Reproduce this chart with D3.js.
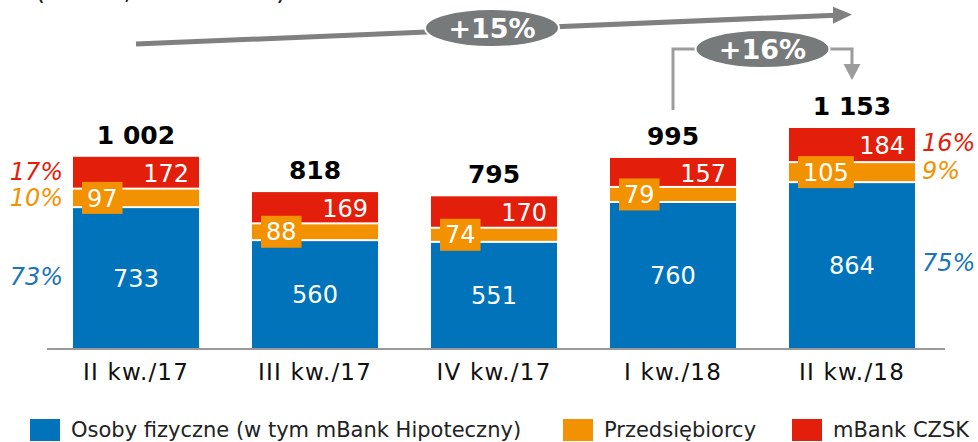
<!DOCTYPE html>
<html>
<head>
<meta charset="utf-8">
<script src="https://cdn.jsdelivr.net/npm/d3@7"></script>
<style>
  body { margin: 0; background: #fff; }
  svg { display: block; font-family: "DejaVu Sans", Verdana, sans-serif; }
</style>
</head>
<body>
<script>
const width = 978;
const height = 442;

// quarters and values (mln zł)
const categories = ["II kw./17", "III kw./17", "IV kw./17", "I kw./18", "II kw./18"];
const individuals = [733, 560, 551, 760, 864];
const entrepreneurs = [97, 88, 74, 79, 105];
const czsk = [172, 169, 170, 157, 184];
const totals = [1002, 818, 795, 995, 1153];

// shares shown next to first and last bar
const sharesFirst = ["73%", "10%", "17%"];
const sharesLast = ["75%", "9%", "16%"];

const seriesNames = ["Osoby fizyczne (w tym mBank Hipoteczny)", "Przedsiębiorcy", "mBank CZSK"];
const colors = ["#0073bb", "#f39200", "#e31e0b"];
const shareColors = ["#1a75bb", "#f39200", "#e31e0b"];

const rows = categories.map((c, i) => ({
    cat: c, ind: individuals[i], ent: entrepreneurs[i], cz: czsk[i]
}));

const stack = d3.stack().keys(["ind", "ent", "cz"]);
const series = stack(rows);

const svg = d3.select("body")
      .append("svg")
      .attr("width", width)
      .attr("height", height);

const x = d3.scaleBand()
      .domain(categories)
      .range([73, 915])
      .paddingInner(0.296)
      .paddingOuter(0);

const y = d3.scaleLinear()
      .domain([0, d3.max(totals)])
      .range([348, 128]);

// cut-off subtitle at the very top
svg.append("text")
    .attr("x", 35)
    .attr("y", -1.5)
    .attr("font-size", 26)
    .attr("fill", "#222")
    .text("(mln zł, kwartalnie)");

// bars
const layers = svg.append("g")
      .selectAll("g")
      .data(series)
      .join("g")
      .attr("fill", (d, i) => colors[i]);

layers.selectAll("rect")
    .data((d, i) => d.map(v => ({ v, layer: i })))
    .join("rect")
    .attr("x", d => x(d.v.data.cat))
    .attr("width", x.bandwidth())
    .attr("y", d => y(d.v[1]))
    .attr("height", d => y(d.v[0]) - y(d.v[1]) - (d.layer > 0 ? 2 : 0));

// baseline
svg.append("line")
    .attr("x1", 47)
    .attr("x2", 945)
    .attr("y1", y(0) + 1)
    .attr("y2", y(0) + 1)
    .attr("stroke", "#999")
    .attr("stroke-width", 2);

// x labels
const xAxis = svg.append("g")
      .attr("transform", `translate(0,${y(0) + 2})`)
      .call(d3.axisBottom(x).tickSize(0).tickPadding(14));
xAxis.select(".domain").remove();
xAxis.selectAll("text")
    .attr("font-size", 23)
    .attr("letter-spacing", 1.2)
    .attr("font-family", "DejaVu Sans, Verdana, sans-serif")
    .attr("fill", "#111");

// blue values
svg.append("g")
    .selectAll("text")
    .data(series[0])
    .join("text")
    .attr("x", d => x(d.data.cat) + x.bandwidth() / 2)
    .attr("y", d => (y(d[0]) + y(d[1])) / 2)
    .attr("dy", "0.36em")
    .attr("text-anchor", "middle")
    .attr("font-size", 24)
    .attr("fill", "#fff")
    .text(d => d.data.ind);

// red values
svg.append("g")
    .selectAll("text")
    .data(series[2])
    .join("text")
    .attr("x", d => x(d.data.cat) + x.bandwidth() - 10)
    .attr("y", d => (y(d[0]) + y(d[1])) / 2)
    .attr("dy", "0.36em")
    .attr("text-anchor", "end")
    .attr("font-size", 24)
    .attr("fill", "#fff")
    .text(d => d.data.cz);

// orange values in boxes
const entLabels = svg.append("g")
      .selectAll("g")
      .data(series[1])
      .join("g")
      .attr("transform", d => `translate(${x(d.data.cat) + 9},${(y(d[0]) + y(d[1])) / 2 - 1})`);

entLabels.append("rect")
    .attr("fill", colors[1])
    .attr("y", -16)
    .attr("height", 32);

entLabels.append("text")
    .attr("x", 5)
    .attr("dy", "0.36em")
    .attr("font-size", 24)
    .attr("fill", "#fff")
    .text(d => d.data.ent);

entLabels.each(function () {
    const g = d3.select(this);
    const w = g.select("text").node().getComputedTextLength();
    g.select("rect").attr("width", w + 10);
});

// totals
svg.append("g")
    .selectAll("text")
    .data(totals)
    .join("text")
    .attr("x", (d, i) => x(categories[i]) + x.bandwidth() / 2)
    .attr("y", d => y(d) - 13)
    .attr("text-anchor", "middle")
    .attr("font-size", 25)
    .attr("font-weight", "bold")
    .attr("fill", "#000")
    .text(d => d3.format(",")(d).replace(/,/g, " "));

// shares beside first and last bars
const first = 0, last = categories.length - 1;
svg.append("g")
    .selectAll("text")
    .data(sharesFirst)
    .join("text")
    .attr("x", x(categories[first]) - 10)
    .attr("y", (d, i) => (y(series[i][first][0]) + y(series[i][first][1])) / 2 - 2)
    .attr("dy", "0.36em")
    .attr("text-anchor", "end")
    .attr("font-size", 24)
    .attr("font-style", "italic")
    .attr("fill", (d, i) => shareColors[i])
    .text(d => d);

svg.append("g")
    .selectAll("text")
    .data(sharesLast)
    .join("text")
    .attr("x", x(categories[last]) + x.bandwidth() + 7)
    .attr("y", (d, i) => (y(series[i][last][0]) + y(series[i][last][1])) / 2 - 3)
    .attr("dy", "0.36em")
    .attr("text-anchor", "start")
    .attr("font-size", 24)
    .attr("font-style", "italic")
    .attr("fill", (d, i) => shareColors[i])
    .text(d => d);

// growth arrows
const cx0 = x(categories[first]) + x.bandwidth() / 2;
const cx1 = x(categories[last]) + x.bandwidth() / 2;
const cx3 = x(categories[last - 1]) + x.bandwidth() / 2;

// +15% long arrow
const ay0 = 44, ay1 = 14.5;
const slope = (ay1 - ay0) / (cx1 - cx0);
svg.append("line")
    .attr("x1", cx0)
    .attr("y1", ay0)
    .attr("x2", cx1 - 16)
    .attr("y2", ay1 - slope * 16)
    .attr("stroke", "#808080")
    .attr("stroke-width", 5);
svg.append("path")
    .attr("d", `M${cx1},${ay1} L${cx1 - 19},${ay1 - slope * 19 - 8.5} L${cx1 - 19},${ay1 - slope * 19 + 8.5} Z`)
    .attr("fill", "#808080");

// +16% bracket arrow
const by = 49;
svg.append("path")
    .attr("d", `M${cx3},110 V${by} H${cx1} V66`)
    .attr("fill", "none")
    .attr("stroke", "#9c9c9c")
    .attr("stroke-width", 3);
svg.append("path")
    .attr("d", `M${cx1 - 8.5},64 L${cx1 + 8.5},64 L${cx1},80 Z`)
    .attr("fill", "#9c9c9c");

const bubbles = [
    { label: "+15%", cx: (cx0 + cx1) / 2 - 2, cy: 28 },
    { label: "+16%", cx: (cx3 + cx1) / 2, cy: by }
];

const bub = svg.append("g")
      .selectAll("g")
      .data(bubbles)
      .join("g")
      .attr("transform", d => `translate(${d.cx},${d.cy})`);

bub.append("ellipse")
    .attr("rx", 67)
    .attr("ry", 19)
    .attr("fill", "#777a7a")
    .attr("stroke", "#fff")
    .attr("stroke-width", 2);

bub.append("text")
    .attr("text-anchor", "middle")
    .attr("dy", "0.36em")
    .attr("font-size", 27)
    .attr("font-weight", "bold")
    .attr("fill", "#fff")
    .text(d => d.label);

// legend
const legendX = [30, 563, 792];
const legend = svg.append("g")
      .selectAll("g")
      .data(seriesNames)
      .join("g")
      .attr("transform", (d, i) => `translate(${legendX[i]},419)`);

legend.append("rect")
    .attr("width", 30)
    .attr("height", 22)
    .attr("fill", (d, i) => colors[i]);

legend.append("text")
    .attr("x", 41)
    .attr("y", 18)
    .attr("font-size", 21)
    .attr("fill", "#222")
    .text(d => d);
</script>
</body>
</html>
